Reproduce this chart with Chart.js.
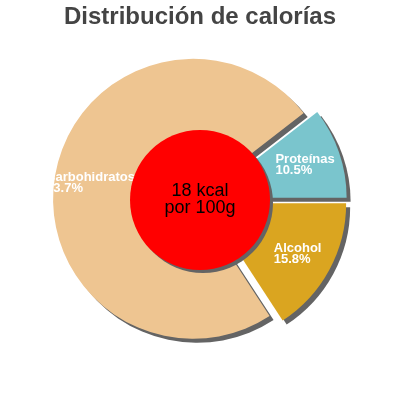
<!DOCTYPE html>
<html><head><meta charset="utf-8">
<script src="https://cdn.jsdelivr.net/npm/chart.js@4/dist/chart.umd.min.js"></script>
<style>html,body{margin:0;padding:0;background:#fff}</style>
</head><body>
<canvas id="c" width="400" height="400"></canvas>
<script>
const categories = ['Proteínas', 'Alcohol', 'Carbohidratos'];
const percentages = [10.5, 15.8, 73.7];
const sliceColors = ['#7AC5CD', '#DAA520', '#EEC591'];
const titleText = 'Distribución de calorías';
const centerLines = ['18 kcal', 'por 100g'];

const FONT = '"Liberation Sans", Arial, sans-serif';
const EXPLODE = 7;
const SHADOW = '#646464';

const explodePlugin = {
  id: 'explode',
  afterDatasetUpdate(chart, args) {
    args.meta.data.forEach(arc => {
      const mid = (arc.startAngle + arc.endAngle) / 2;
      arc.x += Math.cos(mid) * EXPLODE;
      arc.y += Math.sin(mid) * EXPLODE;
    });
  }
};

const decorPlugin = {
  id: 'decor',
  beforeDatasetsDraw(chart) {
    const c = chart.ctx;
    c.save();
    c.shadowColor = SHADOW;
    c.shadowBlur = 0;
    c.shadowOffsetX = 4;
    c.shadowOffsetY = 4;
  },
  afterDatasetsDraw(chart) {
    const c = chart.ctx;
    c.restore();
    const meta = chart.getDatasetMeta(0);
    const ca = chart.chartArea;
    const cx = (ca.left + ca.right) / 2;
    const cy = (ca.top + ca.bottom) / 2;
    // slice labels
    c.save();
    c.fillStyle = '#ffffff';
    c.font = 'bold 13px ' + FONT;
    c.textAlign = 'left';
    c.textBaseline = 'alphabetic';
    meta.data.forEach((arc, i) => {
      const mid = (arc.startAngle + arc.endAngle) / 2;
      const r = arc.outerRadius * 0.743;
      const lx = arc.x + Math.cos(mid) * r;
      const ly = arc.y + Math.sin(mid) * r;
      const l1 = categories[i];
      const l2 = percentages[i].toFixed(1) + '%';
      const w = Math.max(c.measureText(l1).width, c.measureText(l2).width);
      const left = lx - w / 2;
      c.fillText(l1, left, ly - 1);
      c.fillText(l2, left, ly + 10);
    });
    c.restore();
    // center circle
    const rr = meta.data[0].outerRadius * 0.5;
    c.save();
    c.shadowColor = SHADOW;
    c.shadowBlur = 0;
    c.shadowOffsetX = 3;
    c.shadowOffsetY = 3;
    c.fillStyle = '#FF0000';
    c.beginPath();
    c.arc(cx, cy, rr, 0, Math.PI * 2);
    c.fill();
    c.restore();
    c.save();
    c.fillStyle = '#000000';
    c.font = '18px ' + FONT;
    c.textAlign = 'center';
    c.textBaseline = 'alphabetic';
    c.fillText(centerLines[0], cx, cy - 4.3);
    c.fillText(centerLines[1], cx, cy + 13.3);
    c.restore();
  }
};

new Chart(document.getElementById('c'), {
  type: 'pie',
  data: {
    labels: categories,
    datasets: [{
      data: percentages,
      backgroundColor: sliceColors,
      borderWidth: 0,
      hoverOffset: 0
    }]
  },
  options: {
    responsive: false,
    animation: false,
    events: [],
    radius: 140,
    rotation: 90 - percentages[0] * 3.6,
    layout: { padding: { top: 0, bottom: 31.8, left: 0, right: 0 } },
    plugins: {
      legend: { display: false },
      tooltip: { enabled: false },
      title: {
        display: true,
        text: titleText,
        color: '#444444',
        font: { family: FONT, size: 24, weight: 'bold', lineHeight: 1.2 },
        padding: { top: 3, bottom: 0 }
      }
    }
  },
  plugins: [explodePlugin, decorPlugin]
});
</script>
</body></html>
